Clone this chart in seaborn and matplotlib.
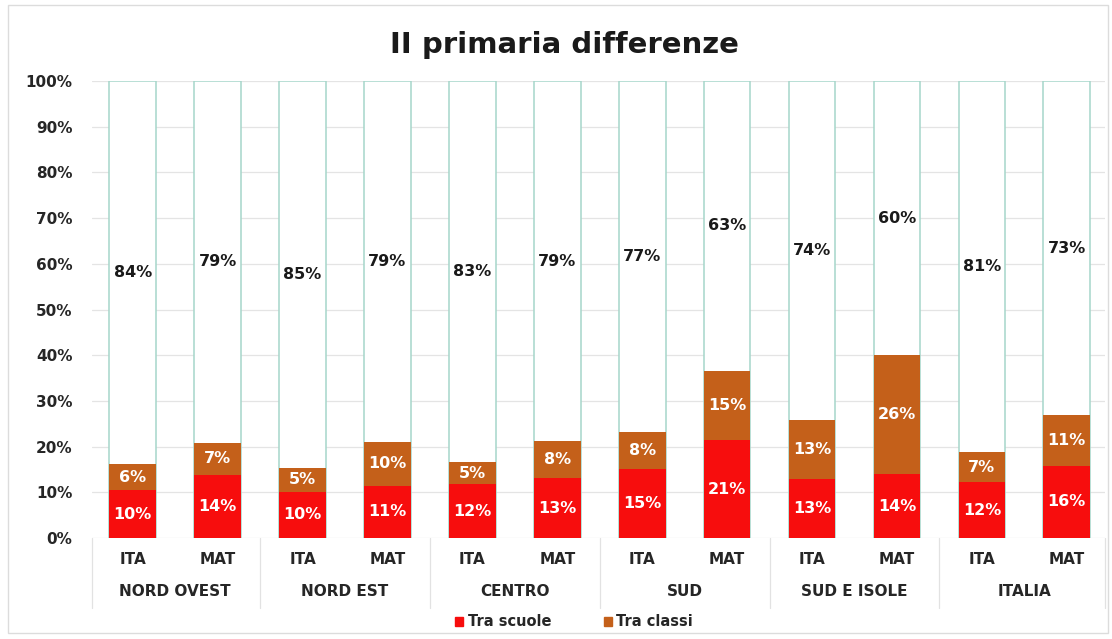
import matplotlib
matplotlib.use("Agg")
import matplotlib.pyplot as plt
from matplotlib.patches import Rectangle
import seaborn as sns
import pandas as pd

# Shares of variance (%) by area and subject
aree = ["NORD OVEST", "NORD EST", "CENTRO", "SUD", "SUD E ISOLE", "ITALIA"]
materie = ["ITA", "MAT"]
tra_scuole = [10.4, 13.8, 10.1, 11.4, 11.8, 13.1, 15.0, 21.4, 12.9, 14.0, 12.2, 15.8]
tra_classi = [5.8, 7.0, 5.2, 9.6, 4.8, 8.1, 8.2, 15.2, 12.9, 26.0, 6.6, 11.1]
dentro_classi = [83.8, 79.2, 84.7, 79.0, 83.4, 78.8, 76.8, 63.4, 74.2, 60.0, 81.2, 73.1]
y_ticks = [0, 10, 20, 30, 40, 50, 60, 70, 80, 90, 100]
titolo = "II primaria differenze"

c_scuole = "#f70d0d"
c_classi = "#c4601a"
c_bordo = "#a6d6ca"
c_testo = "#262626"

sns.set_theme(style="white")
plt.rcParams["font.family"] = ["DejaVu Sans"]

rows = []
for i, area in enumerate(aree):
    for j, m in enumerate(materie):
        k = 2 * i + j
        rows.append({
            "key": f"{area}|{m}",
            "area": area,
            "materia": m,
            "scuole": tra_scuole[k],
            "classi": tra_classi[k],
            "dentro": dentro_classi[k],
        })
df = pd.DataFrame(rows)
df["cum_classi"] = df["scuole"] + df["classi"]
df["cum_tot"] = df["cum_classi"] + df["dentro"]
order = list(df["key"])

fig = plt.figure(figsize=(11.12, 6.39), dpi=100)
ax = fig.add_axes([92 / 1112, 1 - 538 / 639, 1013 / 1112, (538 - 81) / 639])

bw = 0.55
sns.barplot(data=df, x="key", y="cum_tot", order=order, color="white",
            edgecolor=c_bordo, linewidth=1.1, width=bw, saturation=1,
            errorbar=None, ax=ax, zorder=2)
sns.barplot(data=df, x="key", y="cum_classi", order=order, color=c_classi,
            linewidth=0, width=bw, saturation=1, errorbar=None, ax=ax, zorder=3)
sns.barplot(data=df, x="key", y="scuole", order=order, color=c_scuole,
            linewidth=0, width=bw, saturation=1, errorbar=None, ax=ax, zorder=4)

ax.set_xlim(-0.48, 11.45)
ax.set_ylim(0, 100)
ax.set_yticks(y_ticks)
ax.set_yticklabels([f"{t}%" for t in y_ticks], fontsize=11, fontweight="bold",
                   color=c_testo)
ax.tick_params(axis="y", length=0, pad=14)
ax.set_xticks(range(len(order)))
ax.set_xticklabels(list(df["materia"]), fontsize=11, fontweight="bold",
                   color=c_testo)
ax.tick_params(axis="x", length=0, pad=10)
ax.set_xlabel("")
ax.set_ylabel("")
ax.yaxis.grid(True, color="#e4e4e4", linewidth=0.9, zorder=0)
ax.xaxis.grid(False)
ax.set_axisbelow(True)
for s in ax.spines.values():
    s.set_visible(False)

# Value labels inside each segment
lab_kw = dict(ha="center", va="center", fontsize=11.5, fontweight="bold", zorder=6)
for k, r in df.iterrows():
    ax.text(k, r["scuole"] / 2, f"{r['scuole']:.0f}%", color="white", **lab_kw)
    ax.text(k, r["scuole"] + r["classi"] / 2, f"{r['classi']:.0f}%",
            color="white", **lab_kw)
    ax.text(k, r["cum_classi"] + r["dentro"] / 2, f"{r['dentro']:.0f}%",
            color="#1a1a1a", **lab_kw)

# Group labels and separators of the two-level category axis
trans = ax.get_xaxis_transform()
px = 1 / (538 - 81)
for i, area in enumerate(aree):
    ax.text(2 * i + 0.5, -54 * px, area, transform=trans, ha="center",
            va="center", fontsize=11, fontweight="bold", color=c_testo,
            clip_on=False)
for xs in [-0.48, 1.5, 3.5, 5.5, 7.5, 9.5, 11.45]:
    ax.plot([xs, xs], [0, -70 * px], transform=trans, color="#e2e2e2",
            linewidth=0.9, clip_on=False)

fig.text(0.508, 1 - 45 / 639, titolo, ha="center", va="center", fontsize=21,
         fontweight="bold", color="#1a1a1a")

handles = [Rectangle((0, 0), 1, 1, color=c_scuole),
           Rectangle((0, 0), 1, 1, color=c_classi)]
fig.legend(handles, ["Tra scuole", "Tra classi"], loc="center",
           bbox_to_anchor=(574 / 1112, 1 - 622 / 639), ncol=2, frameon=False,
           prop={"size": 10.5, "weight": "bold"}, handlelength=0.55,
           handleheight=0.55, handletextpad=0.3, columnspacing=3.6)

fig.patches.append(Rectangle((8 / 1112, 6 / 639), 1100 / 1112, 628 / 639,
                             transform=fig.transFigure, fill=False,
                             edgecolor="#dcdcdc", linewidth=1.0))

fig.savefig("out.png", dpi=100, facecolor="white")
